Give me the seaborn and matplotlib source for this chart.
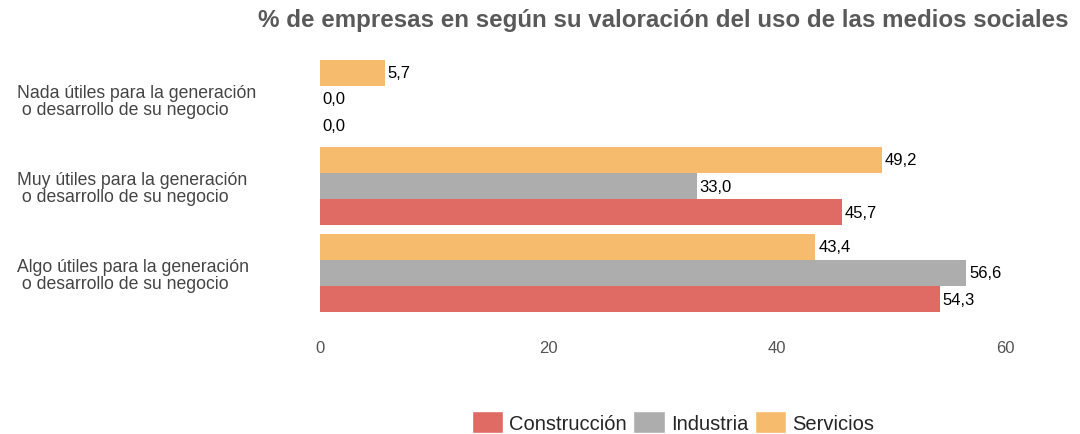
import pandas as pd
import matplotlib.pyplot as plt
import seaborn as sns
from matplotlib.patches import Patch

categorias = ["Nada útiles para la generación\n o desarrollo de su negocio",
              "Muy útiles para la generación\n o desarrollo de su negocio",
              "Algo útiles para la generación\n o desarrollo de su negocio"]
construccion = [0.0, 45.7, 54.3]
industria = [0.0, 33.0, 56.6]
servicios = [5.7, 49.2, 43.4]
sectores = ["Construcción", "Industria", "Servicios"]
colores = {"Construcción": "#E06B65", "Industria": "#ADADAD", "Servicios": "#F7BB6D"}

rows = []
for sector, vals in zip(sectores, [construccion, industria, servicios]):
    for cat, v in zip(categorias, vals):
        rows.append({"categoria": cat, "sector": sector, "valor": v})
df = pd.DataFrame(rows)

sns.set_style("white")
plt.rcParams["font.family"] = ["Liberation Sans", "DejaVu Sans"]

fig = plt.figure(figsize=(10.8, 4.35), dpi=100)
ax = fig.add_axes([320 / 1080, 1 - 317.5 / 435, (1005 - 320) / 1080, 261 / 435])

orden = ["Servicios", "Industria", "Construcción"]
sns.barplot(data=df, y="categoria", x="valor", hue="sector", hue_order=orden,
            order=categorias, palette=colores, width=0.9, orient="h",
            saturation=1, linewidth=0, edgecolor="none", ax=ax, legend=False)

for cont in ax.containers:
    labs = [f"{b.get_width():.1f}".replace(".", ",") for b in cont]
    ax.bar_label(cont, labels=labs, padding=2, fontsize=12, color="black")

ax.set_xlim(0, 60)
ax.set_ylim(2.5, -0.5)
ax.set_xticks([0, 20, 40, 60])
ax.set_xlabel("")
ax.set_ylabel("")
sns.despine(ax=ax, left=True, bottom=True)
ax.tick_params(axis="x", length=0, pad=17, labelsize=12, labelcolor="#555555")
ax.tick_params(axis="y", length=0, pad=218, labelsize=12.7, labelcolor="#444444")
for t in ax.get_yticklabels():
    t.set_ha("left")
    t.set_linespacing(1.0)

# titulo casi al borde derecho, como en el original
fig.text(258 / 1080, 1 - 20 / 435, "% de empresas en según su valoración del uso de las medios sociales",
         fontsize=17.4, fontweight="bold", color="#595959", ha="left", va="center")

handles = [Patch(facecolor=colores[s], label=s) for s in sectores]
fig.legend(handles=handles, loc="center", bbox_to_anchor=(673 / 1080, 1 - 423 / 435),
           ncol=3, frameon=False, fontsize=14.5, handlelength=1.55, handleheight=1.35,
           handletextpad=0.3, columnspacing=0.35, borderpad=0)

fig.savefig("out.png", dpi=100)
